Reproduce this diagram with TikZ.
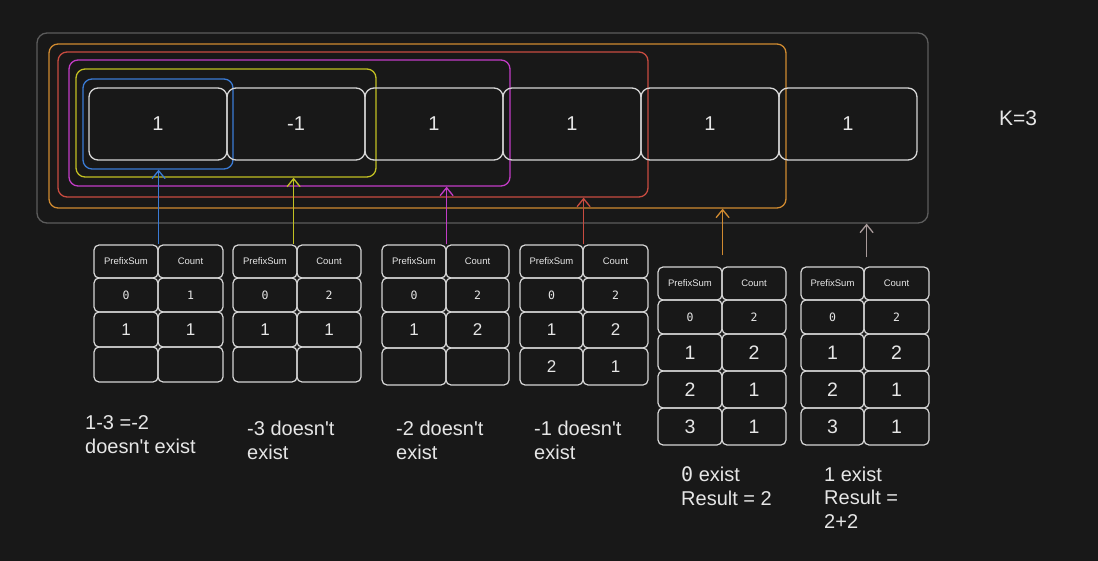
\documentclass[tikz,border=0pt]{standalone}
\usepackage{fontspec}
\setmainfont{Liberation Sans}[Ligatures=TeXOff]
\newfontfamily\monof{DejaVu Sans Mono}
\usetikzlibrary{arrows.meta}
\definecolor{bgc}{HTML}{181818}
\definecolor{linec}{HTML}{D6D6D6}
\definecolor{txtc}{HTML}{E6E6E6}
\definecolor{grayc}{HTML}{5C5C5C}
\definecolor{orangec}{HTML}{D08A30}
\definecolor{redc}{HTML}{C84B40}
\definecolor{magc}{HTML}{C23CC6}
\definecolor{yelc}{HTML}{C2C022}
\definecolor{bluec}{HTML}{3A7BD5}
\definecolor{pinkc}{HTML}{A89A9A}
\newcommand{\hd}{\fontsize{9.5}{11}\selectfont}
\newcommand{\zr}{\fontsize{11.5}{13}\selectfont\monof}
\newcommand{\bgn}{\fontsize{17}{20}\selectfont}
\newcommand{\bgm}{\fontsize{19.5}{22}\selectfont}
\newcommand{\tc}[6]{\node[tcell,minimum width={#4-#2},minimum height={#5-#3}] (#1) at ({(#2+#4)/2},{(#3+#5)/2}) {#6};}
\newcommand{\trow}[8]{\tc{#1a}{#2}{#5}{#3}{#6}{#7}\tc{#1b}{#3}{#5}{#4}{#6}{#8}}
\begin{document}
\begin{tikzpicture}[x=1pt,y=-1pt,
  tcell/.style={draw=linec,line width=1.2pt,rounded corners=5pt,inner sep=0pt,text=txtc},
  mcell/.style={draw=linec,line width=1.3pt,rounded corners=9pt,minimum width=138,minimum height=72,inner sep=0pt,text=txtc,font=\fontsize{20}{24}\selectfont},
  cbox/.style={line width=1.3pt,rounded corners=9pt,inner sep=0pt},
  arr/.style={line width=1.3pt,-{Straight Barb[length=8pt,width=13pt]}},
  lbl/.style={anchor=base west,align=left,inner sep=0pt,text=txtc,font=\fontsize{20}{23.5}\selectfont}]
\fill[bgc] (0,0) rectangle (1098,561);
\useasboundingbox (0,0) rectangle (1098,561);
% nested boxes
\node[cbox,draw=grayc,minimum width=891,minimum height=190,rounded corners=10pt] (gbox) at (482.5,128) {};
\node[cbox,draw=orangec,minimum width=737,minimum height=164] (obox) at (417.5,126) {};
\node[cbox,draw=redc,minimum width=590,minimum height=145] (rbox) at (353,124.5) {};
\node[cbox,draw=magc,minimum width=441,minimum height=126] (mbox) at (289.5,123) {};
\node[cbox,draw=yelc,minimum width=300,minimum height=108] (ybox) at (226,123) {};
\node[cbox,draw=bluec,minimum width=150,minimum height=90] (bbox) at (158,124) {};
% main cells
\node[mcell] (c1) at (158,124) {1};
\node[mcell] (c2) at (296,124) {-1};
\node[mcell] (c3) at (434,124) {1};
\node[mcell] (c4) at (572,124) {1};
\node[mcell] (c5) at (710,124) {1};
\node[mcell] (c6) at (848,124) {1};
\node[text=txtc,inner sep=0pt,font=\fontsize{21}{24}\selectfont] (k) at (1018,118) {K=3};
% table 1
\trow{t1r0}{94}{158}{223}{245}{278}{\hd PrefixSum}{\hd Count}
\trow{t1r1}{94}{158}{223}{278}{312}{\zr 0}{\zr 1}
\trow{t1r2}{94}{158}{223}{312}{347}{\bgn 1}{\bgn 1}
\trow{t1r3}{94}{158}{223}{347}{382}{}{}
% table 2
\trow{t2r0}{233}{297}{361}{245}{278}{\hd PrefixSum}{\hd Count}
\trow{t2r1}{233}{297}{361}{278}{312}{\zr 0}{\zr 2}
\trow{t2r2}{233}{297}{361}{312}{347}{\bgn 1}{\bgn 1}
\trow{t2r3}{233}{297}{361}{347}{382}{}{}
% table 3
\trow{t3r0}{382}{446}{509}{245}{278}{\hd PrefixSum}{\hd Count}
\trow{t3r1}{382}{446}{509}{278}{312}{\zr 0}{\zr 2}
\trow{t3r2}{382}{446}{509}{312}{348}{\bgn 1}{\bgn 2}
\trow{t3r3}{382}{446}{509}{348}{385}{}{}
% table 4
\trow{t4r0}{520}{583}{648}{245}{278}{\hd PrefixSum}{\hd Count}
\trow{t4r1}{520}{583}{648}{278}{312}{\zr 0}{\zr 2}
\trow{t4r2}{520}{583}{648}{312}{348}{\bgn 1}{\bgn 2}
\trow{t4r3}{520}{583}{648}{348}{385}{\bgn 2}{\bgn 1}
% table 5
\trow{t5r0}{658}{722}{786}{267}{300}{\hd PrefixSum}{\hd Count}
\trow{t5r1}{658}{722}{786}{300}{334}{\zr 0}{\zr 2}
\trow{t5r2}{658}{722}{786}{334}{371}{\bgm 1}{\bgm 2}
\trow{t5r3}{658}{722}{786}{371}{408}{\bgm 2}{\bgm 1}
\trow{t5r4}{658}{722}{786}{408}{445}{\bgm 3}{\bgm 1}
% table 6
\trow{t6r0}{801}{864}{929}{267}{300}{\hd PrefixSum}{\hd Count}
\trow{t6r1}{801}{864}{929}{300}{334}{\zr 0}{\zr 2}
\trow{t6r2}{801}{864}{929}{334}{371}{\bgm 1}{\bgm 2}
\trow{t6r3}{801}{864}{929}{371}{408}{\bgm 2}{\bgm 1}
\trow{t6r4}{801}{864}{929}{408}{445}{\bgm 3}{\bgm 1}
% arrows
\draw[arr,bluec] (t1r0a.north east) -- (t1r0a.north east |- bbox.south);
\draw[arr,yelc] ([xshift=-4pt]t2r0a.north east) -- ([xshift=-4pt]t2r0a.north east |- ybox.south);
\draw[arr,magc] (t3r0a.north east) -- (t3r0a.north east |- mbox.south);
\draw[arr,redc] (t4r0a.north east) -- (t4r0a.north east |- rbox.south);
\draw[arr,orangec,shorten <=11pt] (t5r0a.north east) -- (t5r0a.north east |- obox.south);
\draw[arr,pinkc,shorten <=9pt] ([xshift=2pt]t6r0a.north east) -- ([xshift=2pt]t6r0a.north east |- gbox.south);
% labels (anchored at the baseline of their last line)
\node[lbl] (l1) at (85,453) {1-3 =-2\\doesn't exist};
\node[lbl] (l2) at (247,459) {-3 doesn't\\exist};
\node[lbl] (l3) at (396,459) {-2 doesn't\\exist};
\node[lbl] (l4) at (534,459) {-1 doesn't\\exist};
\node[lbl] (l5) at (681,505) {{\monof 0} exist\\Result = 2};
\node[lbl] (l6) at (824,528) {1 exist\\Result =\\2+2};
\end{tikzpicture}
\end{document}
